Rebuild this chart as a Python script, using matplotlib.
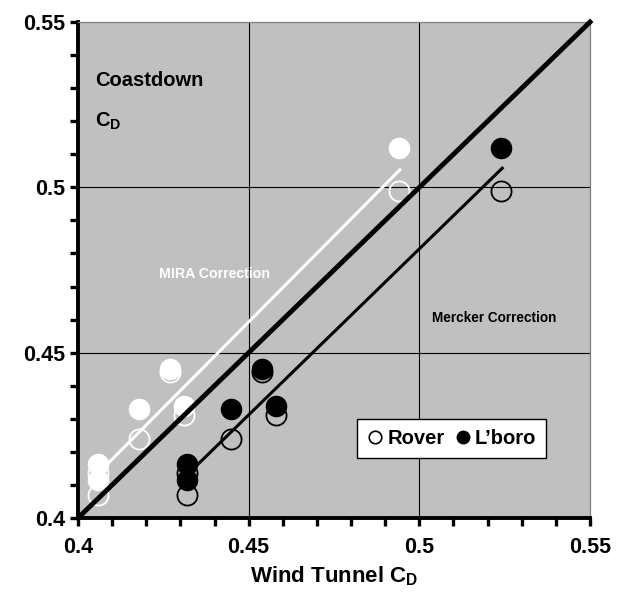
import numpy as np
import matplotlib
matplotlib.use('Agg')
import matplotlib.pyplot as plt
from matplotlib.lines import Line2D

plt.rcParams['font.family'] = ['Liberation Sans', 'DejaVu Sans']
plt.rcParams['font.weight'] = 'bold'
plt.rcParams['mathtext.fontset'] = 'custom'
plt.rcParams['mathtext.rm'] = 'Liberation Sans:bold'
plt.rcParams['mathtext.bf'] = 'Liberation Sans:bold'

# wind tunnel CD after each blockage correction (x) and coastdown CD (y)
mira_x = [0.406, 0.406, 0.418, 0.427, 0.431, 0.494]
mercker_x = [0.432, 0.432, 0.4448, 0.454, 0.458, 0.524]
rover_cd = [0.407, 0.4135, 0.424, 0.4441, 0.431, 0.499]
lboro_cd = [0.4114, 0.4163, 0.433, 0.4451, 0.434, 0.512]

# trend lines as drawn
mira_line_x = [0.406, 0.4943]
mira_line_y = [0.4136, 0.5053]
mercker_line_x = [0.432, 0.5243]
mercker_line_y = [0.4131, 0.5058]

ticks = [0.4, 0.45, 0.5, 0.55]
tick_labels = ['0.4', '0.45', '0.5', '0.55']

fig = plt.figure(figsize=(6.24, 5.92), dpi=100)
ax = fig.add_axes([0.125, 0.125, 0.8205, 0.8378])
ax.set_facecolor('#c0c0c0')

for g in [0.45, 0.5]:
    ax.axvline(g, color='black', lw=0.8, zorder=1)
    ax.axhline(g, color='black', lw=0.8, zorder=1)

ms = 14.5
# open = Rover, filled = L'boro
ax.plot(mira_x, rover_cd, 'o', ms=ms, mfc='none', mec='white', mew=1.3, ls='none', zorder=3)
ax.plot(mira_x, lboro_cd, 'o', ms=ms, mfc='white', mec='white', ls='none', zorder=4)
ax.plot(mercker_x, rover_cd, 'o', ms=ms, mfc='none', mec='black', mew=1.3, ls='none', zorder=3)
ax.plot(mercker_x, lboro_cd, 'o', ms=ms, mfc='black', mec='black', ls='none', zorder=4)

ax.plot(mira_line_x, mira_line_y, color='white', lw=2.2, zorder=5)
ax.plot(mercker_line_x, mercker_line_y, color='black', lw=2.2, zorder=5)
ax.plot([0.4, 0.55], [0.4, 0.55], color='black', lw=3.5, zorder=6, clip_on=False)

ax.text(0.4401, 0.4738, 'MIRA Correction', color='white', fontsize=10.2,
        fontweight='bold', ha='center', va='center')
ax.text(0.5219, 0.4605, 'Mercker Correction', color='black', fontsize=9.8,
        fontweight='bold', ha='center', va='center')

ax.text(0.033, 0.883, 'Coastdown', transform=ax.transAxes, fontsize=14.5,
        fontweight='bold', ha='left', va='center')
ax.text(0.033, 0.80, r'C$_\mathrm{D}$', transform=ax.transAxes, fontsize=14.5,
        fontweight='bold', ha='left', va='center')

ax.set_xlim(0.4, 0.55)
ax.set_ylim(0.4, 0.55)
ax.set_xticks(ticks)
ax.set_xticklabels(tick_labels)
ax.set_yticks(ticks)
ax.set_yticklabels(tick_labels)
ax.set_xticks(np.arange(0.4, 0.5501, 0.01), minor=True)
ax.set_yticks(np.arange(0.4, 0.5501, 0.01), minor=True)
ax.tick_params(which='major', direction='out', length=6, width=2.4, labelsize=15.5)
ax.tick_params(axis='x', which='major', pad=8)
ax.tick_params(axis='y', which='major', pad=3)
ax.tick_params(which='minor', direction='out', length=5.5, width=2.4)
for lab in ax.get_xticklabels() + ax.get_yticklabels():
    lab.set_fontweight('bold')

for s in ['left', 'bottom']:
    ax.spines[s].set_linewidth(2.8)
    ax.spines[s].set_color('black')
for s in ['top', 'right']:
    ax.spines[s].set_linewidth(0.9)
    ax.spines[s].set_color('#808080')

ax.set_xlabel(r'Wind Tunnel C$_\mathrm{D}$', fontsize=16, fontweight='bold', labelpad=4)

handles = [Line2D([], [], marker='o', ls='none', ms=9, mfc='white', mec='black', mew=1.2),
           Line2D([], [], marker='o', ls='none', ms=9, mfc='black', mec='black')]
leg = ax.legend(handles, ['Rover', "L\u2019boro"], ncol=2, loc='center',
                bbox_to_anchor=(0.7295, 0.161), fontsize=14.5, frameon=True,
                fancybox=False, framealpha=1, edgecolor='black', borderpad=0.5,
                handletextpad=0.2, columnspacing=0.5, handlelength=0.8,
                borderaxespad=0)
leg.get_frame().set_linewidth(1.0)
leg.set_zorder(10)

fig.savefig('out.png', dpi=100)
